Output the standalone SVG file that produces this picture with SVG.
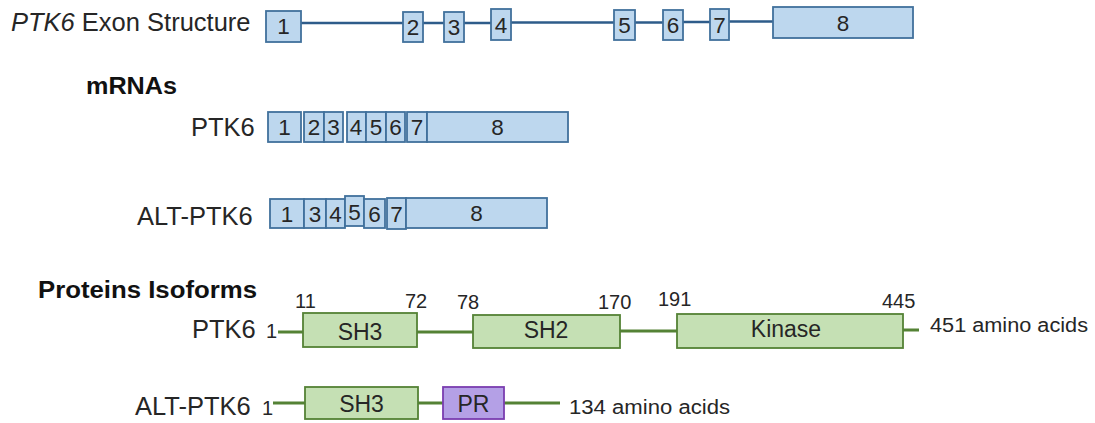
<svg xmlns="http://www.w3.org/2000/svg" width="1095" height="423" viewBox="0 0 1095 423">
<style>
text{font-family:"Liberation Sans",Arial,sans-serif;fill:#262626}
.ex{fill:#bdd7ee;stroke:#41719c;stroke-width:1.8}
.dom{fill:#c5e0b4;stroke:#548235;stroke-width:1.8}
.pr{fill:#b4a0e6;stroke:#7a3db0;stroke-width:1.8}
.num{font-size:22.5px;text-anchor:middle}
.lbl{font-size:25.5px}
.hd{font-size:23px;font-weight:bold;fill:#111}
.pos{font-size:20px}
.dl{font-size:23px;text-anchor:middle}
.gl{stroke:#548235;stroke-width:3;fill:none}
.bl{stroke:#2e5c8a;stroke-width:2.5;fill:none}
</style>
<rect width="1095" height="423" fill="#ffffff"/>

<text x="11" y="31" class="lbl"><tspan font-style="italic">PTK6</tspan> Exon Structure</text>
<text x="86" y="94" class="hd" textLength="91" lengthAdjust="spacingAndGlyphs">mRNAs</text>
<text x="38" y="298" class="hd" textLength="219" lengthAdjust="spacingAndGlyphs">Proteins Isoforms</text>

<g id="connectors">
  <path class="bl" d="M301 23 L403 23 M423 23 L444 23 M464 23 L491 23 M511 22.5 L614 22.5 M635 22.5 L663 22.5 M683 22 L710 22 M729 21.5 L773 21.5"/>
  <path class="gl" d="M278 332 H303 M417 332 H473 M620 331 H677 M903 330 H919"/>
  <path class="gl" d="M273 403 H305 M418 403 H443 M504 403 H560"/>
</g>

<g id="exon-structure">
  <g id="ex1"><rect class="ex" x="266" y="11" width="35" height="31"/><text class="num" x="283.5" y="34">1</text></g>
  <g id="ex2"><rect class="ex" x="403" y="12" width="20" height="30"/><text class="num" x="413" y="35">2</text></g>
  <g id="ex3"><rect class="ex" x="444" y="12" width="20" height="30"/><text class="num" x="454" y="35">3</text></g>
  <g id="ex4"><rect class="ex" x="491" y="9" width="20" height="31"/><text class="num" x="501" y="33">4</text></g>
  <g id="ex5"><rect class="ex" x="614" y="10" width="21" height="30"/><text class="num" x="624.5" y="33">5</text></g>
  <g id="ex6"><rect class="ex" x="663" y="10" width="20" height="30"/><text class="num" x="673" y="33">6</text></g>
  <g id="ex7"><rect class="ex" x="710" y="9" width="19" height="31"/><text class="num" x="719.5" y="33">7</text></g>
  <g id="ex8"><rect class="ex" x="773" y="7" width="140" height="31"/><text class="num" x="843" y="31">8</text></g>
</g>

<g id="mrna-ptk6">
  <text x="191" y="136" class="lbl">PTK6</text>
  <rect class="ex" x="268" y="112" width="33" height="30"/><text class="num" x="284.5" y="135">1</text>
  <rect class="ex" x="304" y="112" width="20" height="30"/><text class="num" x="314" y="135">2</text>
  <rect class="ex" x="324" y="112" width="19" height="30"/><text class="num" x="333.5" y="135">3</text>
  <rect class="ex" x="347" y="112" width="19" height="30"/><text class="num" x="356" y="135">4</text>
  <rect class="ex" x="366" y="112" width="20" height="30"/><text class="num" x="376" y="135">5</text>
  <rect class="ex" x="386" y="112" width="19" height="30"/><text class="num" x="395.5" y="135">6</text>
  <rect class="ex" x="407" y="112" width="20" height="30"/><text class="num" x="417" y="135">7</text>
  <rect class="ex" x="427" y="112" width="141" height="30"/><text class="num" x="497.5" y="135">8</text>
</g>

<g id="mrna-alt-ptk6">
  <text x="137" y="225" class="lbl">ALT-PTK6</text>
  <rect class="ex" x="270" y="199" width="34" height="29"/><text class="num" x="287" y="222">1</text>
  <rect class="ex" x="304" y="199" width="22" height="29"/><text class="num" x="315" y="222">3</text>
  <rect class="ex" x="326" y="199" width="19" height="29"/><text class="num" x="335.5" y="222">4</text>
  <rect class="ex" x="345" y="196" width="19" height="30"/><text class="num" x="354.5" y="220">5</text>
  <rect class="ex" x="364" y="199" width="21" height="29"/><text class="num" x="374.5" y="222">6</text>
  <rect class="ex" x="387" y="198" width="19" height="31"/><text class="num" x="396.5" y="222">7</text>
  <rect class="ex" x="406" y="198" width="141" height="30"/><text class="num" x="476.5" y="221">8</text>
</g>

<g id="protein-ptk6">
  <text x="192" y="338" class="lbl">PTK6</text>
  <text x="266" y="338" class="pos" font-size="21">1</text>
  <rect class="dom" x="303" y="313" width="114" height="34"/><text class="dl" x="360" y="340">SH3</text>
  <rect class="dom" x="473" y="315" width="147" height="33"/><text class="dl" x="546" y="338">SH2</text>
  <rect class="dom" x="677" y="314" width="226" height="34"/><text class="dl" x="786" y="337">Kinase</text>
  <text x="295" y="308" class="pos">11</text>
  <text x="405" y="308" class="pos">72</text>
  <text x="457" y="309" class="pos">78</text>
  <text x="598" y="309" class="pos">170</text>
  <text x="658" y="306" class="pos">191</text>
  <text x="882" y="308" class="pos">445</text>
  <text x="930" y="332" class="pos" textLength="158" lengthAdjust="spacingAndGlyphs">451 amino acids</text>
</g>

<g id="protein-alt-ptk6">
  <text x="135" y="415" class="lbl">ALT-PTK6</text>
  <text x="262" y="415" class="pos" font-size="21">1</text>
  <rect class="dom" x="305" y="387" width="113" height="32"/><text class="dl" x="361.5" y="412">SH3</text>
  <rect class="pr" x="443" y="387" width="61" height="32"/><text class="dl" x="473.5" y="412">PR</text>
  <text x="569" y="414" class="pos" textLength="161" lengthAdjust="spacingAndGlyphs">134 amino acids</text>
</g>
</svg>
